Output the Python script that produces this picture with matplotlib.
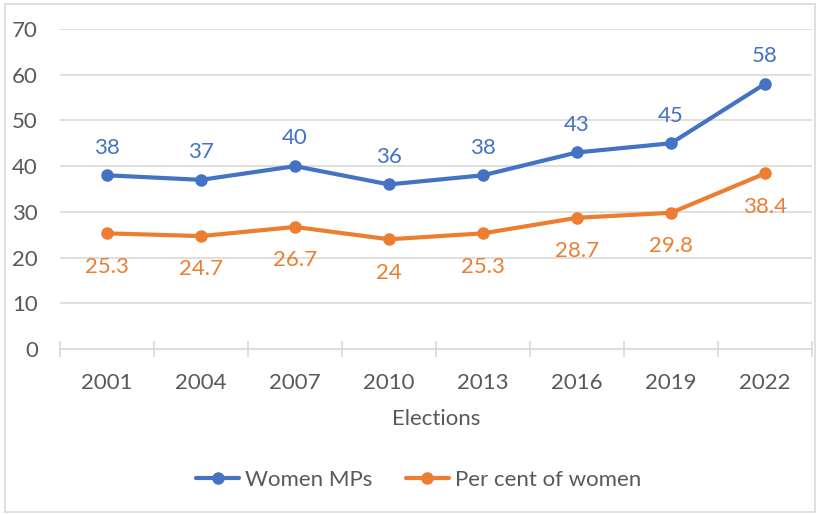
import matplotlib
matplotlib.use("Agg")
import matplotlib.pyplot as plt
from matplotlib.patches import Rectangle
import numpy as np

years = ["2001", "2004", "2007", "2010", "2013", "2016", "2019", "2022"]
women_mps = [38, 37, 40, 36, 38, 43, 45, 58]
pct_women = [25.3, 24.7, 26.7, 24, 25.3, 28.7, 29.8, 38.4]

BLUE = "#4472C4"
ORANGE = "#ED7D31"
TEXT = "#595959"
GRID = "#D9D9D9"
FS = 16

plt.rcParams["font.family"] = ["Lato", "DejaVu Sans"]

W, H = 817, 514
fig = plt.figure(figsize=(W / 100, H / 100), dpi=100)
ax = fig.add_axes([60 / W, 1 - 349 / H, (812 - 60) / W, (349 - 29) / H])

x = np.arange(len(years))
ax.plot(x, women_mps, color=BLUE, lw=3, marker="o", ms=8, label="Women MPs",
        solid_capstyle="round", zorder=3)
ax.plot(x, pct_women, color=ORANGE, lw=3, marker="o", ms=8, label="Per cent of women",
        solid_capstyle="round", zorder=3)

for xi, v in zip(x, women_mps):
    ax.annotate(f"{v:g}", (xi, v), xytext=(0, 20), textcoords="offset points",
                ha="center", va="center", color=BLUE, fontsize=FS)
for xi, v in zip(x, pct_women):
    ax.annotate(f"{v:g}", (xi, v), xytext=(0, -24), textcoords="offset points",
                ha="center", va="center", color=ORANGE, fontsize=FS)

ax.set_xlim(-0.5, len(years) - 0.5)
ax.set_ylim(0, 70)
ax.set_yticks(range(0, 71, 10))
ax.yaxis.grid(True, color=GRID, lw=1.2)
ax.set_axisbelow(True)
for s in ["top", "right", "left"]:
    ax.spines[s].set_visible(False)
ax.spines["bottom"].set_color(GRID)
ax.spines["bottom"].set_linewidth(1.2)

ax.set_xticks(x)
ax.set_xticklabels(years)
ax.set_xticks(np.arange(-0.5, len(years), 1.0), minor=True)
ax.tick_params(axis="x", which="major", length=0, pad=17, labelsize=FS, labelcolor=TEXT)
ax.tick_params(axis="x", which="minor", direction="inout", length=12, width=1.2, color=GRID)
ax.tick_params(axis="y", length=0, pad=16, labelsize=FS, labelcolor=TEXT)

ax.set_xlabel("Elections", fontsize=FS, color=TEXT, labelpad=12)

leg = fig.legend(loc="center", bbox_to_anchor=(0.5 + 10 / W, 1 - 480 / H), ncol=2,
                 frameon=False, fontsize=FS, handlelength=1.95, columnspacing=1.5,
                 handletextpad=0.25, labelcolor=TEXT)

fig.patches.append(Rectangle((5 / W, 2 / H), (W - 7) / W, (H - 6) / H, transform=fig.transFigure,
                             fill=False, edgecolor="#D9D9D9", lw=1.2))

fig.savefig("out.png", dpi=100)
